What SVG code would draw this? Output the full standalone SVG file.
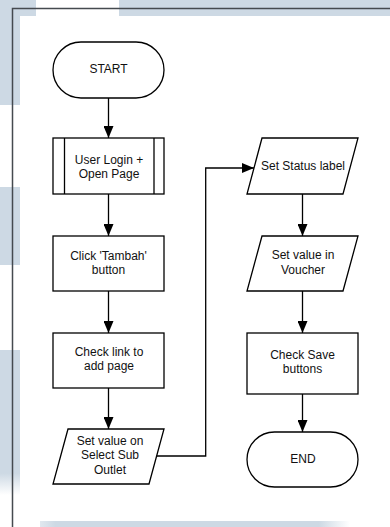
<svg xmlns="http://www.w3.org/2000/svg" width="390" height="527" viewBox="0 0 390 527">
  <style>
    .shape { fill: #ffffff; stroke: #000000; stroke-width: 1.3; }
    .inner { fill: none; stroke: #000000; stroke-width: 1.3; }
    .label { font-family: "Liberation Sans", Arial, sans-serif; font-size: 12px; fill: #111111; text-anchor: middle; }
    .edge { fill: none; stroke: #000000; stroke-width: 1.3; }
    .band { fill: #cdd9e4; }
  </style>
  <defs>
    <marker id="arrow" markerUnits="userSpaceOnUse" markerWidth="12" markerHeight="10" refX="12" refY="5" orient="auto">
      <path d="M0,0 L12,5 L0,10 Z" fill="#000000"/>
    </marker>
    <linearGradient id="fadeDown" x1="0" y1="0" x2="0" y2="1">
      <stop offset="0.85" stop-color="#cdd9e4"/>
      <stop offset="1" stop-color="#cdd9e4" stop-opacity="0"/>
    </linearGradient>
    <linearGradient id="fadeRight" x1="0" y1="0" x2="1" y2="0">
      <stop offset="0" stop-color="#cdd9e4" stop-opacity="0.6"/>
      <stop offset="0.05" stop-color="#cdd9e4"/>
      <stop offset="0.9" stop-color="#cdd9e4"/>
      <stop offset="1" stop-color="#cdd9e4" stop-opacity="0"/>
    </linearGradient>
  </defs>

  <!-- page background and pale bands behind the frame -->
  <rect x="0" y="0" width="390" height="527" fill="#ffffff"/>
  <g id="backdrop">
    <rect class="band" x="0" y="0" width="36" height="16"/>
    <rect class="band" x="119" y="0" width="271" height="16"/>
    <rect class="band" x="0" y="0" width="20" height="105"/>
    <rect class="band" x="0" y="187" width="20" height="78"/>
    <rect x="0" y="350" width="20" height="145" fill="url(#fadeDown)"/>
    <rect x="40" y="521" width="310" height="6" fill="url(#fadeRight)"/>
  </g>

  <!-- outer frame -->
  <path d="M12.5,527 L12.5,8.5 L390,8.5" fill="none" stroke="#454a4f" stroke-width="1.5"/>

  <!-- connectors -->
  <g id="connectors">
    <line class="edge" x1="108.5" y1="98" x2="108.5" y2="138" marker-end="url(#arrow)"/>
    <line class="edge" x1="108.5" y1="194" x2="108.5" y2="236" marker-end="url(#arrow)"/>
    <line class="edge" x1="108.5" y1="291" x2="108.5" y2="333" marker-end="url(#arrow)"/>
    <line class="edge" x1="108.5" y1="388" x2="108.5" y2="429" marker-end="url(#arrow)"/>
    <polyline class="edge" points="156.6,456 205.7,456 205.7,168 254,168" marker-end="url(#arrow)"/>
    <line class="edge" x1="302.5" y1="194" x2="302.5" y2="236" marker-end="url(#arrow)"/>
    <line class="edge" x1="302.5" y1="291" x2="302.5" y2="333" marker-end="url(#arrow)"/>
    <line class="edge" x1="302.5" y1="394" x2="302.5" y2="432" marker-end="url(#arrow)"/>
  </g>

  <g id="start">
    <rect class="shape" x="53" y="42" width="111" height="56" rx="28" ry="28"/>
    <text class="label" x="108.5" y="73">START</text>
  </g>

  <g id="user-login">
    <rect class="shape" x="53" y="138" width="111" height="56"/>
    <line class="inner" x1="64.5" y1="138" x2="64.5" y2="194"/>
    <line class="inner" x1="154" y1="138" x2="154" y2="194"/>
    <text class="label" x="109" y="164">User Login +</text>
    <text class="label" x="109" y="178">Open Page</text>
  </g>

  <g id="click-tambah">
    <rect class="shape" x="53" y="236" width="111" height="55"/>
    <text class="label" x="108.5" y="259.5">Click 'Tambah'</text>
    <text class="label" x="108.5" y="274">button</text>
  </g>

  <g id="check-link">
    <rect class="shape" x="53" y="333" width="111" height="55"/>
    <text class="label" x="109" y="356">Check link to</text>
    <text class="label" x="109" y="370">add page</text>
  </g>

  <g id="set-sub-outlet">
    <polygon class="shape" points="68,429 164,429 149,484 53,484"/>
    <text class="label" x="110" y="444.5">Set value on</text>
    <text class="label" x="110" y="459">Select Sub</text>
    <text class="label" x="110" y="473.5">Outlet</text>
  </g>

  <g id="set-status">
    <polygon class="shape" points="262,138 358,138 343,194 247,194"/>
    <text class="label" x="303" y="169.5">Set Status label</text>
  </g>

  <g id="set-voucher">
    <polygon class="shape" points="262,236 358,236 343,291 247,291"/>
    <text class="label" x="303" y="259">Set value in</text>
    <text class="label" x="303" y="273.5">Voucher</text>
  </g>

  <g id="check-save">
    <rect class="shape" x="247" y="333" width="111" height="61"/>
    <text class="label" x="302.5" y="358.5">Check Save</text>
    <text class="label" x="302.5" y="373">buttons</text>
  </g>

  <g id="end">
    <rect class="shape" x="247" y="432" width="111" height="55" rx="27.5" ry="27.5"/>
    <text class="label" x="303" y="462.5">END</text>
  </g>
</svg>
